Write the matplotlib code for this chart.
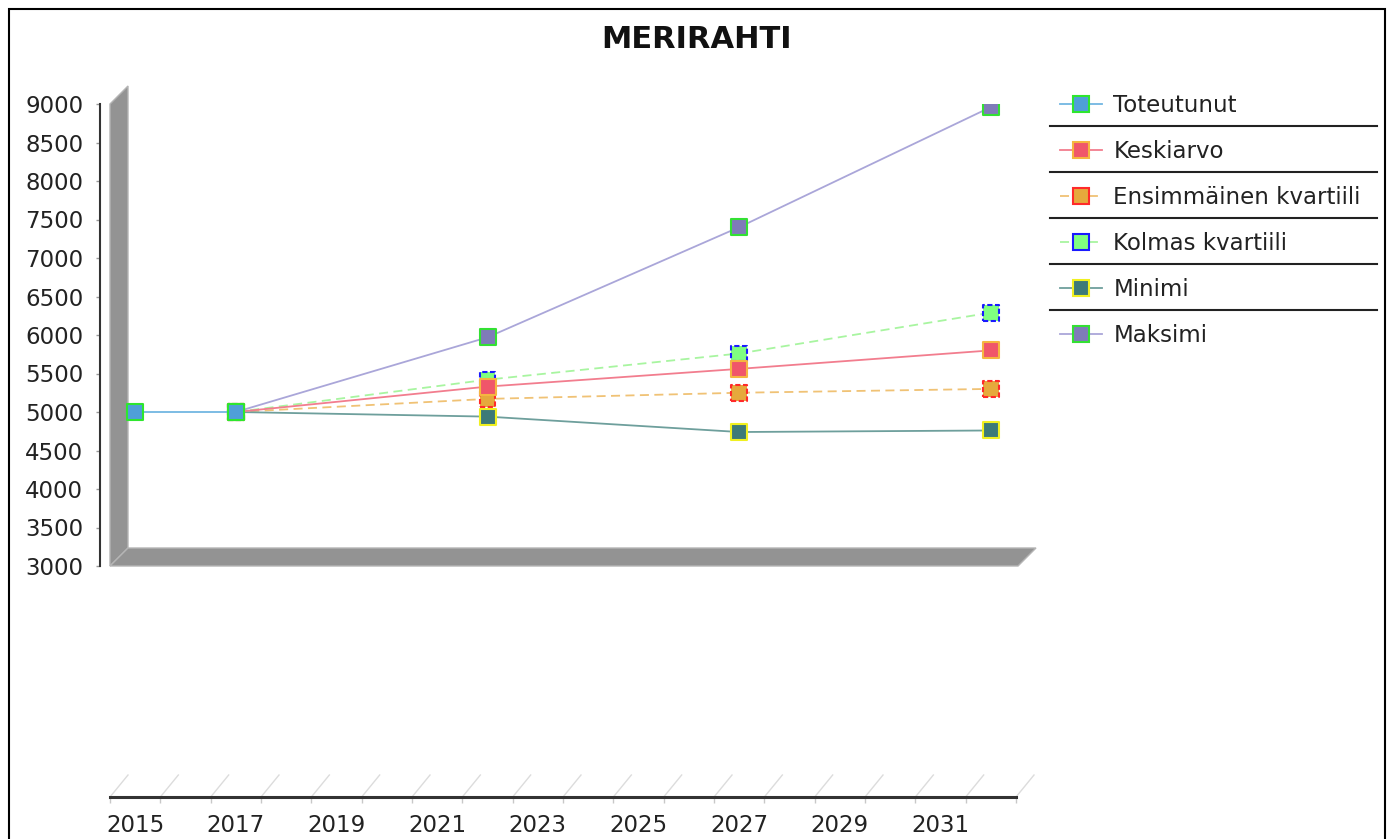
import matplotlib
matplotlib.use('Agg')
import matplotlib.pyplot as plt
from matplotlib.patches import Polygon, Rectangle
from matplotlib.lines import Line2D

# data
years_actual = [2015, 2017]
toteutunut = [5000, 5000]
years_fc = [2017, 2022, 2027, 2032]
keskiarvo = [5000, 5330, 5560, 5800]
kvartiili_1 = [5000, 5170, 5250, 5300]
kvartiili_3 = [5000, 5420, 5760, 6290]
minimi = [5000, 4940, 4740, 4760]
maksimi = [5000, 5970, 7400, 8960]
year_labels = list(range(2015, 2032, 2))

W, H = 1387, 839
def fx(p): return p / W
def fy(p): return 1 - p / H

plt.rcParams['font.family'] = ['DejaVu Sans']
fig = plt.figure(figsize=(W / 100, H / 100), dpi=100)

# frame round the whole picture
fig.add_artist(Rectangle((fx(9), fy(860)), fx(1385) - fx(9), fy(9) - fy(860),
                         transform=fig.transFigure, fill=False, ec='black', lw=1.5))

fig.text(fx(697), fy(40), 'MERIRAHTI', ha='center', va='center',
         fontsize=22, fontweight='bold', color='#111')

# 3d wall and floor
grey = '#939393'
fig.add_artist(Polygon([(fx(110), fy(104)), (fx(128), fy(86)), (fx(128), fy(548)), (fx(110), fy(566))],
                       closed=True, transform=fig.transFigure, fc=grey, ec='#b5b5b5', lw=1, zorder=-1))
fig.add_artist(Polygon([(fx(110), fy(566)), (fx(128), fy(548)), (fx(1036), fy(548)), (fx(1018), fy(566))],
                       closed=True, transform=fig.transFigure, fc=grey, ec='#b5b5b5', lw=1, zorder=-1))

X0, X1 = 110, 1016
band = (X1 - X0) / 18

ax = fig.add_axes([fx(X0), fy(566), fx(X1) - fx(X0), (566 - 104) / H])
ax.patch.set_visible(False)
ax.set_xlim(2014.5, 2032.5)
ax.set_ylim(3000, 9000)
for s in ['top', 'right', 'bottom']:
    ax.spines[s].set_visible(False)
ax.spines['left'].set_position(('outward', 7.2))
ax.spines['left'].set_color('#333')
ax.spines['left'].set_linewidth(1.5)
ax.set_xticks([])
ax.set_yticks(range(3000, 9001, 500))
ax.tick_params(axis='y', length=3, width=1, color='#999', pad=9, labelsize=16.5, labelcolor='#222')

series = [
    # name, years, values, line colour, ls, fill, edge, edge ls, zorder
    ('Toteutunut', years_actual, toteutunut, '#72b6e2', '-', '#4f9fd8', '#2ee62e', '-', 10),
    ('Keskiarvo', years_fc, keskiarvo, '#f27d8e', '-', '#f0566a', '#f5b640', '-', 8),
    ('Ensimmäinen kvartiili', years_fc, kvartiili_1, '#f0c275', '--', '#e6a93c', '#ff2a2a', '--', 6),
    ('Kolmas kvartiili', years_fc, kvartiili_3, '#a8f5a0', '--', '#80ff80', '#1a1aff', '--', 5),
    ('Minimi', years_fc, minimi, '#6e9f9c', '-', '#3d7a78', '#f0f020', '-', 7),
    ('Maksimi', years_fc, maksimi, '#aaa6d9', '-', '#7f7bb9', '#33e033', '-', 7),
]

handles, labels = [], []
for name, xs, ys, lc, ls, fc, ec, els, z in series:
    dash = (0, (5, 3)) if ls == '--' else '-'
    ax.plot(xs, ys, color=lc, lw=1.3, linestyle=dash, zorder=z)
    edash = (0, (2.5, 1.2)) if els == '--' else '-'
    ax.scatter(xs, ys, marker='s', s=130, facecolor=fc, edgecolor=ec,
               linewidths=1.5, linestyle=edash, zorder=z + 0.5)
    handles.append(Line2D([], [], color=lc, lw=1.3, linestyle=dash, marker='s', markersize=11,
                          markerfacecolor=fc, markeredgecolor=ec, markeredgewidth=1.5))
    labels.append(name)

leg = fig.legend(handles, labels, loc='upper left', bbox_to_anchor=(fx(1060), fy(94)),
                 bbox_transform=fig.transFigure, frameon=False, fontsize=16.5,
                 handlelength=1.85, handletextpad=0.48, labelspacing=1.0, borderpad=0,
                 borderaxespad=0, numpoints=1)
for t in leg.get_texts():
    t.set_color('#222')

for yy in [126, 172, 218, 264, 310]:
    fig.add_artist(Line2D([fx(1050), fx(1377)], [fy(yy), fy(yy)], transform=fig.transFigure,
                          color='#222', lw=1.5))

# bottom year axis
ax2 = fig.add_axes([fx(X0), fy(797), fx(X1) - fx(X0), 22 / H])
ax2.patch.set_visible(False)
ax2.set_xlim(2014.5, 2032.5)
ax2.set_ylim(0, 1)
for s in ['top', 'right', 'left']:
    ax2.spines[s].set_visible(False)
ax2.spines['bottom'].set_color('#333')
ax2.spines['bottom'].set_linewidth(2.2)
ax2.set_yticks([])
ax2.set_xticks(year_labels)
ax2.set_xticks([y - 0.5 for y in range(2015, 2034)], minor=True)
ax2.tick_params(axis='x', which='major', length=0, pad=12, labelsize=16.5, labelcolor='#222')
ax2.tick_params(axis='x', which='minor', length=4, width=1, color='#c8c8c8')
shift = 18 / band
for b in range(2015, 2034):
    ax2.plot([b - 0.5, b - 0.5 + shift], [0, 1], color='#dcdcdc', lw=1, clip_on=False)

fig.savefig('out.png', dpi=100)
